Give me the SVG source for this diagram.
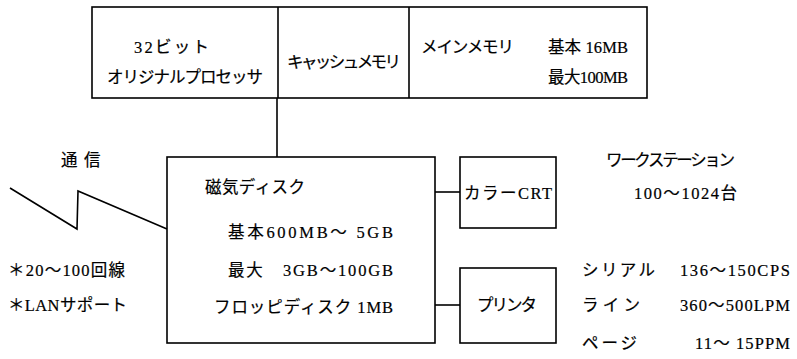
<svg xmlns="http://www.w3.org/2000/svg" width="797" height="359" viewBox="0 0 797 359">
<style>
.box{fill:none;stroke:#000;stroke-width:1.6}
.ln{fill:none;stroke:#000;stroke-width:1.6}
text{font-family:"Liberation Serif","Noto Sans CJK JP",serif;font-size:16.5px;fill:#000;stroke:#000;stroke-width:0.2}
</style>
<rect width="797" height="359" fill="#fff"/>
<g id="cpu-unit">
<rect class="box" x="92" y="7" width="555" height="91"/>
<line class="ln" x1="278" y1="7" x2="278" y2="98"/>
<line class="ln" x1="409" y1="7" x2="409" y2="98"/>
<text x="134" y="53" textLength="75" lengthAdjust="spacing">32ビット</text>
<text x="107" y="83" textLength="156" lengthAdjust="spacing">オリジナルプロセッサ</text>
<text x="287" y="68" textLength="114" lengthAdjust="spacing">キャッシュメモリ</text>
<text x="421" y="53" textLength="93" lengthAdjust="spacing">メインメモリ</text>
<text x="548" y="53" textLength="80" lengthAdjust="spacing">基本 16MB</text>
<text x="548" y="83" textLength="80" lengthAdjust="spacing">最大100MB</text>
</g>
<g id="disk-unit">
<rect class="box" x="167" y="157" width="268" height="186"/>
<text x="205" y="193" textLength="100" lengthAdjust="spacing">磁気ディスク</text>
<text x="228" y="238" textLength="165" lengthAdjust="spacing">基本600MB～ 5GB</text>
<text x="228" y="276" textLength="165" lengthAdjust="spacing">最大　3GB～100GB</text>
<text x="214" y="313" textLength="179" lengthAdjust="spacing">フロッピディスク 1MB</text>
</g>
<g id="crt">
<rect class="box" x="460" y="157" width="96" height="71"/>
<text x="464" y="199" textLength="88" lengthAdjust="spacing">カラーCRT</text>
</g>
<g id="printer">
<rect class="box" x="460" y="268" width="96" height="75"/>
<text x="477" y="311" textLength="60" lengthAdjust="spacing">プリンタ</text>
</g>
<g id="comm">
<text x="61" y="166">通<tspan x="84">信</tspan></text>
<text x="8" y="276" textLength="117" lengthAdjust="spacing">＊20～100回線</text>
<text x="8" y="311" textLength="119" lengthAdjust="spacing">＊LANサポート</text>
</g>
<g id="workstation-note">
<text x="606" y="166" textLength="129" lengthAdjust="spacing">ワークステーション</text>
<text x="634" y="199" textLength="103" lengthAdjust="spacing">100～1024台</text>
</g>
<g id="printer-note">
<text x="582" y="276" textLength="73" lengthAdjust="spacing">シリアル</text>
<text x="680" y="276" textLength="110" lengthAdjust="spacing">136～150CPS</text>
<text x="582" y="311" textLength="58" lengthAdjust="spacing">ライン</text>
<text x="680" y="311" textLength="110" lengthAdjust="spacing">360～500LPM</text>
<text x="582" y="349" textLength="55" lengthAdjust="spacing">ページ</text>
<text x="695" y="349" textLength="95" lengthAdjust="spacing">11～ 15PPM</text>
</g>
<g id="connectors">
<line class="ln" x1="277" y1="98" x2="277" y2="157"/>
<line class="ln" x1="435" y1="192" x2="460" y2="192"/>
<line class="ln" x1="435" y1="305" x2="460" y2="305"/>
<polyline class="ln" points="10,188 77,229 78,191 167,229"/>
</g>
</svg>
